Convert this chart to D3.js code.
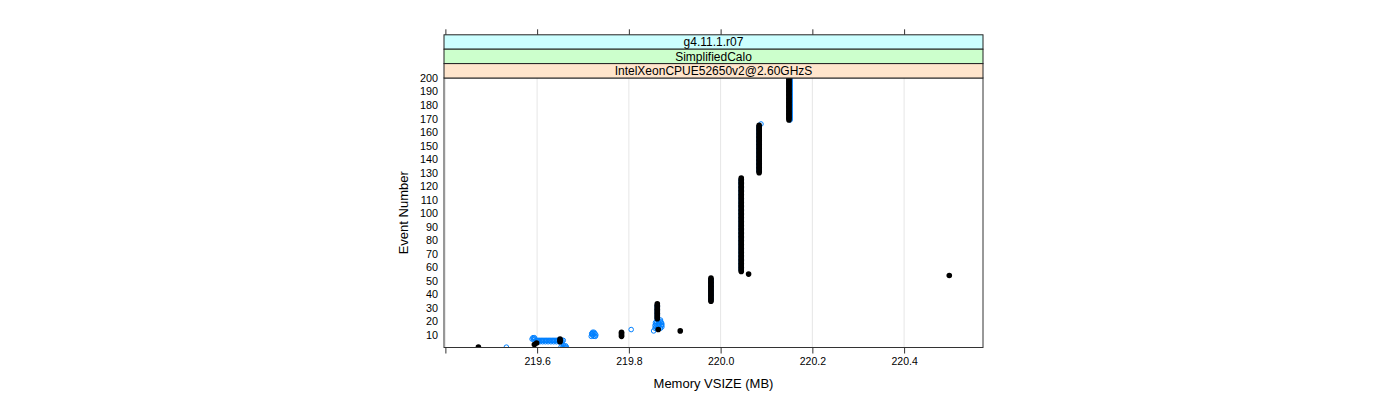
<!DOCTYPE html>
<html>
<head>
<meta charset="utf-8">
<script src="https://cdn.jsdelivr.net/npm/d3@7"></script>
<style>
  html, body { margin: 0; padding: 0; background: #ffffff; }
  svg { display: block; font-family: "Liberation Sans", Arial, Helvetica, sans-serif; }
</style>
</head>
<body>
<svg id="chart" width="1400" height="400"></svg>
<script>
// ---------------- data ----------------
const stripLabels = ["g4.11.1.r07", "SimplifiedCalo", "IntelXeonCPUE52650v2@2.60GHzS"];
const stripColors = ["#ccffff", "#ccffcc", "#ffe5cc"];

const xTicks = [219.4, 219.6, 219.8, 220.0, 220.2, 220.4];
const xTickLabels = ["", "219.6", "219.8", "220.0", "220.2", "220.4"];
const yTicks = [10, 20, 30, 40, 50, 60, 70, 80, 90, 100, 110, 120, 130, 140, 150, 160, 170, 180, 190, 200];

// series 1 (black, filled): isolated points  (memory MB, event number)
const blackPtMem = [219.472, 219.594, 219.599, 219.650, 219.650, 219.650, 219.912, 219.864, 220.4985, 220.061];
const blackPtEvt = [1, 3, 4, 5, 6, 7, 13, 14, 54, 55];
// series 1 (black): runs of consecutive events at a constant memory
const blackRunMem  = [219.784, 219.862, 219.979, 220.045, 220.084, 220.149];
const blackRunFrom = [9, 22, 35, 57, 130, 169];
const blackRunTo   = [12, 33, 52, 126, 165, 200];

// series 2 (blue, open): isolated points
const bluePtMem = [219.533, 219.652, 219.656, 219.660, 219.664, 219.658, 219.662,
  219.600, 219.603, 219.606, 219.609, 219.612, 219.615, 219.618, 219.621, 219.624, 219.627, 219.630,
  219.633, 219.636, 219.639, 219.642, 219.645, 219.648, 219.651, 219.654, 219.657,
  219.601, 219.606, 219.612, 219.618, 219.624, 219.630, 219.636, 219.642, 219.648, 219.654,
  219.589, 219.592, 219.594, 219.591, 219.595,
  219.718, 219.724, 219.720, 219.722, 219.728, 219.726, 219.720, 219.724, 219.721, 219.727, 219.719,
  219.805, 219.854,
  219.857, 219.863, 219.869, 219.859, 219.865, 219.872, 219.857, 219.864, 219.871,
  219.859, 219.866, 219.872, 219.858, 219.865, 219.871, 219.860, 219.868, 219.863, 219.869,
  220.088];
const bluePtEvt = [1, 1, 1, 1, 1, 2, 2,
  6, 6, 6, 6, 6, 6, 6, 6, 6, 6, 6,
  6, 6, 6, 6, 6, 6, 6, 6, 6,
  5, 5, 5, 5, 5, 5, 5, 5, 5, 5,
  7, 7, 8, 8, 7,
  9, 9, 10, 10, 10, 11, 11, 12, 12, 9, 11,
  14, 13,
  15, 15, 15, 16, 16, 16, 17, 17, 17,
  18, 18, 18, 19, 19, 19, 20, 20, 21, 21,
  166];
// series 2 (blue): runs
const blueRunMem  = [219.862, 219.979, 220.045, 220.084, 220.1515];
const blueRunFrom = [22, 36, 58, 131, 169];
const blueRunTo   = [32, 51, 125, 164, 200];

const xTitle = "Memory VSIZE (MB)";
const yTitle = "Event Number";

// ---------------- build point tables ----------------
function buildPoints(ptMem, ptEvt, runMem, runFrom, runTo) {
  const pts = [];
  runMem.forEach((m, i) => {
    for (let e = runFrom[i]; e <= runTo[i]; e++) pts.push({ mem: m, evt: e });
  });
  ptMem.forEach((m, i) => pts.push({ mem: m, evt: ptEvt[i] }));
  return pts;
}
const blackPoints = buildPoints(blackPtMem, blackPtEvt, blackRunMem, blackRunFrom, blackRunTo);
const bluePoints  = buildPoints(bluePtMem, bluePtEvt, blueRunMem, blueRunFrom, blueRunTo);

// ---------------- layout ----------------
const panel = { left: 444, right: 983, top: 78, bottom: 347.5 };
const stripH = 14.4;
const nStrips = stripLabels.length;
const stripTop = panel.top - stripH * nStrips;

const svg = d3.select("#chart");

const x = d3.scaleLinear().domain([219.397, 220.572]).range([panel.left, panel.right]);
const y = d3.scaleLinear().domain([0, 200]).range([348.5, panel.top]);

// clip
svg.append("defs").append("clipPath").attr("id", "pclip")
  .append("rect")
  .attr("x", panel.left).attr("y", panel.top)
  .attr("width", panel.right - panel.left).attr("height", panel.bottom - panel.top);

// grid (vertical only)
svg.append("g")
  .selectAll("line").data(xTicks).join("line")
  .attr("x1", d => x(d)).attr("x2", d => x(d))
  .attr("y1", panel.top).attr("y2", panel.bottom)
  .attr("stroke", "#e6e6e6").attr("stroke-width", 1);

// points
const plot = svg.append("g").attr("clip-path", "url(#pclip)");
plot.append("g").selectAll("circle").data(bluePoints).join("circle")
  .attr("cx", d => x(d.mem)).attr("cy", d => y(d.evt)).attr("r", 2.3)
  .attr("fill", "none").attr("stroke", "#0080ff").attr("stroke-width", 1);
plot.append("g").selectAll("circle").data(blackPoints).join("circle")
  .attr("cx", d => x(d.mem)).attr("cy", d => y(d.evt)).attr("r", 2.8)
  .attr("fill", "#000000");

// panel border
svg.append("rect")
  .attr("x", panel.left).attr("y", panel.top)
  .attr("width", panel.right - panel.left).attr("height", panel.bottom - panel.top)
  .attr("fill", "none").attr("stroke", "#333").attr("stroke-width", 1);

// strips
const strips = svg.append("g");
stripLabels.forEach((lab, i) => {
  const yy = stripTop + i * stripH;
  strips.append("rect")
    .attr("x", panel.left).attr("y", yy)
    .attr("width", panel.right - panel.left).attr("height", stripH)
    .attr("fill", stripColors[i]).attr("stroke", "#222").attr("stroke-width", 1);
  strips.append("text")
    .attr("x", (panel.left + panel.right) / 2).attr("y", yy + stripH / 2 + 4.3)
    .attr("text-anchor", "middle").attr("font-size", "12px").attr("fill", "#000")
    .text(lab);
});

// bottom axis
const xAxisB = d3.axisBottom(x).tickValues(xTicks).tickSize(6).tickPadding(4)
  .tickFormat((d, i) => xTickLabels[i]);
const gxb = svg.append("g").attr("transform", `translate(0,${panel.bottom})`).call(xAxisB);
gxb.select(".domain").remove();
gxb.selectAll("line").attr("stroke", "#333");
gxb.selectAll("text").attr("font-size", "10.5px").attr("fill", "#000")
  .attr("font-family", "Liberation Sans, Arial, sans-serif");

// top axis (ticks only)
const xAxisT = d3.axisTop(x).tickValues(xTicks).tickSize(5.5).tickFormat("");
const gxt = svg.append("g").attr("transform", `translate(0,${stripTop})`).call(xAxisT);
gxt.select(".domain").remove();
gxt.selectAll("line").attr("stroke", "#333");

// left axis (labels only)
const yAxis = d3.axisLeft(y).tickValues(yTicks).tickSize(0).tickPadding(6).tickFormat(d3.format("d"));
const gy = svg.append("g").attr("transform", `translate(${panel.left},0)`).call(yAxis);
gy.select(".domain").remove();
gy.selectAll("text").attr("font-size", "10.8px").attr("fill", "#000")
  .attr("font-family", "Liberation Sans, Arial, sans-serif");

// titles
svg.append("text")
  .attr("x", (panel.left + panel.right) / 2).attr("y", 388)
  .attr("text-anchor", "middle").attr("font-size", "13px").attr("fill", "#000")
  .text(xTitle);
svg.append("text")
  .attr("transform", `translate(408,${(panel.top + panel.bottom) / 2}) rotate(-90)`)
  .attr("text-anchor", "middle").attr("font-size", "13px").attr("fill", "#000")
  .text(yTitle);
</script>
</body>
</html>
